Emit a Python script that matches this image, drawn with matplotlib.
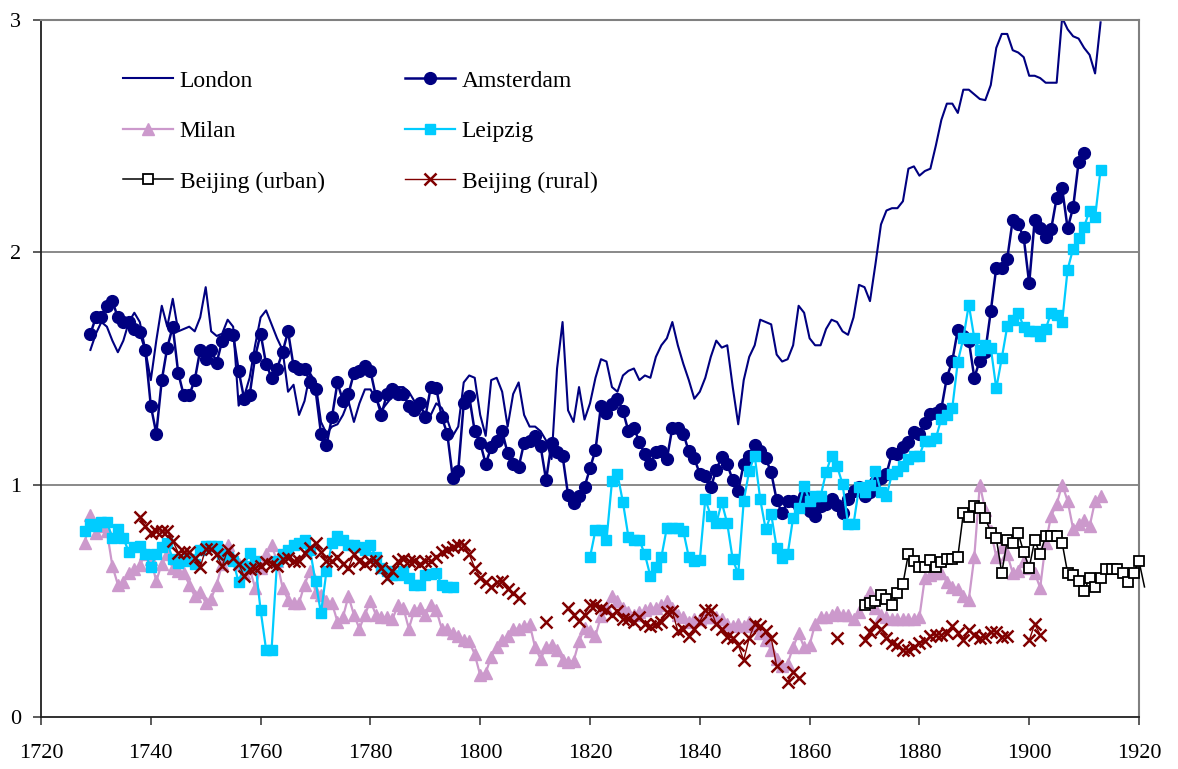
import numpy as np
import matplotlib
matplotlib.use("Agg")
import matplotlib.pyplot as plt
from matplotlib.ticker import FixedLocator

plt.rcParams['font.family'] = ['Liberation Serif', 'DejaVu Serif']

nan = np.nan

# ---------------- data ----------------
x_ticks = [1720, 1740, 1760, 1780, 1800, 1820, 1840, 1860, 1880, 1900, 1920]
y_ticks = [0, 1, 2, 3]

london_start = 1729
london = [1.58, 1.65, 1.70, 1.68, 1.62, 1.57, 1.62, 1.70, 1.74, 1.70,
          1.58, 1.45, 1.62, 1.77, 1.68, 1.80, 1.66, 1.67, 1.68, 1.66,
          1.72, 1.85, 1.66, 1.64, 1.65, 1.71, 1.68, 1.34, 1.38, 1.46,
          1.60, 1.72, 1.75, 1.69, 1.63, 1.58, 1.40, 1.43, 1.30, 1.36,
          1.48, 1.44, 1.27, 1.22, 1.25, 1.26, 1.30, 1.36, 1.27, 1.35,
          1.41, 1.41, 1.37, 1.32, 1.35, 1.38, 1.42, 1.42, 1.40, 1.36,
          1.33, 1.31, 1.30, 1.35, 1.33, 1.28, 1.21, 1.25, 1.44, 1.47,
          1.46, 1.30, 1.21, 1.45, 1.46, 1.40, 1.25, 1.39, 1.44, 1.30,
          1.25, 1.25, 1.23, 1.19, 1.11, 1.50, 1.70, 1.32, 1.27, 1.42,
          1.28, 1.35, 1.46, 1.54, 1.53, 1.42, 1.40, 1.47, 1.49, 1.50,
          1.45, 1.47, 1.46, 1.55, 1.60, 1.63, 1.70, 1.60, 1.52, 1.45,
          1.37, 1.40, 1.46, 1.55, 1.62, 1.59, 1.60, 1.42, 1.26, 1.45,
          1.55, 1.60, 1.71, 1.70, 1.69, 1.56, 1.53, 1.54, 1.60, 1.77,
          1.74, 1.63, 1.60, 1.60, 1.67, 1.71, 1.70, 1.66, 1.645, 1.72,
          1.86, 1.85, 1.79, 1.95, 2.12, 2.18, 2.19, 2.19, 2.22, 2.36,
          2.37, 2.33, 2.35, 2.36, 2.46, 2.57, 2.64, 2.64, 2.60, 2.70,
          2.70, 2.68, 2.66, 2.655, 2.72, 2.88, 2.94, 2.94, 2.87, 2.86,
          2.84, 2.76, 2.76, 2.75, 2.73, 2.73, 2.73, 3.01, 2.96, 2.93,
          2.92, 2.88, 2.85, 2.77, 2.99]

amsterdam_start = 1729
amsterdam = [1.65, 1.72, 1.72, 1.77, 1.79, 1.72, 1.70, 1.70, 1.67, 1.655,
             1.58, 1.34, 1.22, 1.45, 1.59, 1.68, 1.48, 1.385, 1.385, 1.45,
             1.58, 1.54, 1.58, 1.525, 1.62, 1.65, 1.645, 1.49, 1.37, 1.385,
             1.55, 1.65, 1.52, 1.46, 1.50, 1.57, 1.66, 1.51, 1.50, 1.50,
             1.44, 1.41, 1.22, 1.17, 1.29, 1.44, 1.36, 1.39, 1.48, 1.49,
             1.51, 1.49, 1.38, 1.30, 1.39, 1.41, 1.39, 1.39, 1.34, 1.32,
             1.35, 1.29, 1.42, 1.415, 1.29, 1.22, 1.03, 1.06, 1.35, 1.38,
             1.23, 1.18, 1.09, 1.16, 1.19, 1.23, 1.135, 1.09, 1.075, 1.18,
             1.19, 1.21, 1.165, 1.02, 1.18, 1.14, 1.125, 0.957, 0.923, 0.952,
             0.99, 1.07, 1.15, 1.34, 1.31, 1.346, 1.37, 1.317, 1.23, 1.245,
             1.183, 1.13, 1.087, 1.14, 1.145, 1.11, 1.245, 1.245, 1.22, 1.143,
             1.114, 1.046, 1.039, 0.988, 1.064, 1.12, 1.087, 1.02, 0.974, 1.09,
             1.125, 1.17, 1.147, 1.114, 1.053, 0.934, 0.876, 0.93, 0.93, 0.91,
             0.95, 0.887, 0.866, 0.909, 0.916, 0.938, 0.913, 0.876, 0.938, 0.974,
             0.99, 0.95, 0.97, 1.01, 1.03, 1.046, 1.136, 1.133, 1.16, 1.183,
             1.226, 1.219, 1.266, 1.306, 1.31, 1.327, 1.461, 1.534, 1.667, 1.64,
             1.62, 1.461, 1.534, 1.573, 1.746, 1.934, 1.934, 1.973, 2.14, 2.121,
             2.064, 1.866, 2.14, 2.103, 2.064, 2.10, 2.234, 2.276, 2.103, 2.193,
             2.388, 2.428]

milan_start = 1728
milan = [0.75, 0.87, 0.79, 0.82, 0.80, 0.65, 0.57, 0.58, 0.62, 0.635,
         0.655, 0.70, 0.68, 0.585, 0.66, 0.70, 0.64, 0.63, 0.62, 0.57,
         0.52, 0.54, 0.49, 0.51, 0.57, 0.66, 0.74, 0.68, 0.66, 0.62,
         0.64, 0.556, 0.64, 0.70, 0.74, 0.67, 0.556, 0.505, 0.49, 0.49,
         0.57, 0.63, 0.54, 0.527, 0.50, 0.49, 0.41, 0.43, 0.52, 0.44,
         0.38, 0.44, 0.50, 0.44, 0.43, 0.43, 0.42, 0.48, 0.47, 0.38,
         0.46, 0.47, 0.44, 0.48, 0.46, 0.38, 0.38, 0.36, 0.35, 0.33,
         0.325, 0.27, 0.18, 0.19, 0.26, 0.30, 0.33, 0.35, 0.38, 0.38,
         0.39, 0.40, 0.30, 0.25, 0.30, 0.31, 0.29, 0.245, 0.238, 0.24,
         0.325, 0.385, 0.37, 0.35, 0.433, 0.47, 0.52, 0.50, 0.47, 0.45,
         0.44, 0.45, 0.46, 0.47, 0.47, 0.48, 0.50, 0.47, 0.44, 0.43,
         0.41, 0.42, 0.42, 0.43, 0.43, 0.43, 0.42, 0.40, 0.39, 0.40,
         0.39, 0.41, 0.39, 0.36, 0.33, 0.29, 0.25, 0.22, 0.23, 0.30,
         0.36, 0.30, 0.31, 0.40, 0.43, 0.43, 0.44, 0.45, 0.44, 0.44,
         0.42, 0.45, 0.50, 0.54, 0.47, 0.44, 0.43, 0.42, 0.42, 0.42,
         0.42, 0.42, 0.43, 0.60, 0.61, 0.62, 0.62, 0.58, 0.56, 0.55,
         0.52, 0.505, 0.69, 1.00, 0.89, 0.80, 0.69, 0.73, 0.70, 0.62,
         0.63, 0.67, 0.64, 0.62, 0.556, 0.75, 0.866, 0.916, 1.00, 0.93,
         0.81, 0.83, 0.85, 0.82, 0.93, 0.95]

leipzig_start = 1728
leipzig = ([0.80, 0.83, 0.82, 0.84, 0.84, 0.77, 0.81, 0.77, 0.71, 0.73,
            0.736, 0.70, 0.645, 0.70, 0.73, 0.75, 0.68, 0.664, 0.67, 0.68,
            0.66, 0.72, 0.736, 0.736, 0.736, 0.70, 0.69, 0.67, 0.58, 0.65,
            0.707, 0.67, 0.46, 0.29, 0.29, 0.67, 0.70, 0.72, 0.74, 0.75,
            0.76, 0.72, 0.584, 0.447, 0.628, 0.75, 0.78, 0.76, 0.74, 0.74,
            0.73, 0.72, 0.74, 0.69, 0.64, 0.63, 0.61, 0.61, 0.63, 0.60,
            0.57, 0.57, 0.61, 0.615, 0.62, 0.57, 0.56, 0.56]
           + [nan] * 24 +
           [0.688, 0.804, 0.804, 0.76, 1.014, 1.046, 0.924, 0.775, 0.76, 0.76,
            0.70, 0.606, 0.645, 0.688, 0.815, 0.815, 0.815, 0.80, 0.688, 0.67,
            0.675, 0.938, 0.866, 0.833, 0.924, 0.833, 0.678, 0.616, 0.93, 1.06,
            1.125, 0.938, 0.808, 0.873, 0.729, 0.685, 0.70, 0.858, 0.90, 0.996,
            0.93, 0.95, 0.95, 1.053, 1.125, 1.08, 1.003, 0.83, 0.83, 0.988,
            0.97, 1.00, 1.06, 0.97, 0.95, 1.046, 1.06, 1.08, 1.11, 1.125,
            1.125, 1.19, 1.19, 1.20, 1.284, 1.30, 1.332, 1.53, 1.63, 1.775,
            1.63, 1.58, 1.60, 1.59, 1.414, 1.544, 1.681, 1.71, 1.74, 1.68,
            1.66, 1.66, 1.64, 1.67, 1.74, 1.73, 1.70, 1.926, 2.016, 2.06,
            2.11, 2.18, 2.15, 2.356])

beijing_urban_start = 1870
beijing_urban = [0.483, 0.49, 0.50, 0.527, 0.51, 0.483, 0.534, 0.573, 0.703, 0.671,
                 0.645, 0.645, 0.675, 0.645, 0.665, 0.68, 0.68, 0.69, 0.876, 0.86,
                 0.909, 0.90, 0.857, 0.794, 0.77, 0.62, 0.76, 0.75, 0.79, 0.71,
                 0.642, 0.76, 0.70, 0.78, 0.78, 0.78, 0.75, 0.62, 0.61, 0.585,
                 0.541, 0.60, 0.56, 0.60, 0.635, 0.635, 0.635, 0.62, 0.58, 0.62,
                 0.671, 0.56]

beijing_rural_start = 1738
beijing_rural = ([0.86, 0.82, 0.79, 0.80, 0.80, 0.80, 0.758, 0.707, 0.71, 0.71,
                  0.685, 0.645, 0.723, 0.723, 0.70, 0.649, 0.72, 0.685, 0.66, 0.606,
                  0.635, 0.64, 0.652, 0.667, 0.66, 0.65, 0.678, 0.685, 0.67, 0.67,
                  0.707, 0.729, 0.75, 0.71, 0.671, 0.67, 0.69, 0.66, 0.642, 0.70,
                  0.67, 0.66, 0.67, 0.671, 0.642, 0.599, 0.63, 0.67, 0.68, 0.67,
                  0.67, 0.66, 0.67, 0.67, 0.69, 0.71, 0.72, 0.73, 0.74, 0.74,
                  0.70, 0.642, 0.60, 0.58, 0.56, 0.58, 0.584, 0.55, 0.534, 0.512]
                 + [nan] * 4 + [0.41] + [nan] * 3 +
                 [0.47, 0.44, 0.415, 0.44, 0.48, 0.48, 0.47, 0.46, 0.44, 0.455,
                  0.42, 0.42, 0.41, 0.43, 0.40, 0.39, 0.40, 0.41, 0.45, 0.455,
                  0.37, 0.38, 0.35, 0.38, 0.41, 0.46, 0.46, 0.40, 0.38, 0.346,
                  0.34, 0.31, 0.245, 0.34, 0.40, 0.39, 0.37, 0.34, 0.22, nan,
                  0.15, 0.195, 0.166]
                 + [nan] * 6 + [0.34] + [nan] * 4 +
                 [0.332, 0.368, 0.40, 0.38, 0.34, 0.32, 0.31, 0.29, 0.289, 0.303,
                  0.317, 0.325, 0.35, 0.354, 0.354, 0.36, 0.39, 0.36, 0.332, 0.375,
                  0.354, 0.339, 0.346, 0.368, 0.368, 0.346, 0.35]
                 + [nan] * 3 + [0.33, 0.40, 0.355])


def years(start, vals):
    return np.arange(start, start + len(vals))


# ---------------- figure ----------------
W, H = 1178, 769
fig = plt.figure(figsize=(W / 100, H / 100), dpi=100)
L, R, T, B = 41, 1139, 20, 717
ax = fig.add_axes([L / W, 1 - B / H, (R - L) / W, (B - T) / H])

ax.set_xlim(1720, 1920)
ax.set_ylim(0, 3)

grid_c = '#808080'
for g in [1, 2]:
    ax.axhline(g, color=grid_c, lw=1.3, zorder=0.5)

navy = '#000080'
h_london, = ax.plot(years(london_start, london), london, color=navy, lw=1.5,
                    label='London', zorder=2)
h_ams, = ax.plot(years(amsterdam_start, amsterdam), amsterdam, color=navy,
                 lw=1.8, marker='o', ms=8.5, mec=navy, mfc=navy,
                 label='Amsterdam', zorder=3)
h_milan, = ax.plot(years(milan_start, milan), milan, color='#CC99CC', lw=1.6,
                   marker='^', ms=8.5, mec='#CC99CC', mfc='#CC99CC',
                   label='Milan', zorder=4)
h_leip, = ax.plot(years(leipzig_start, leipzig), leipzig, color='#00CCFF',
                  lw=1.6, marker='s', ms=7.5, mec='#00CCFF', mfc='#00CCFF',
                  label='Leipzig', zorder=5)
uy = years(beijing_urban_start, beijing_urban)
h_urb, = ax.plot(uy, beijing_urban, color='black', lw=1.1, marker='s', ms=7,
                 mfc='white', mec='black', mew=1.3,
                 markevery=slice(0, len(uy) - 1), clip_on=False,
                 label='Beijing (urban)', zorder=6)
h_rur, = ax.plot(years(beijing_rural_start, beijing_rural), beijing_rural,
                 color='#800000', lw=1.0, marker='x', ms=9, mew=1.8,
                 label='Beijing (rural)', zorder=7)

# spines
for s in ['top', 'right']:
    ax.spines[s].set_color(grid_c)
    ax.spines[s].set_linewidth(1.5)
for s in ['left', 'bottom']:
    ax.spines[s].set_color('#202020')
    ax.spines[s].set_linewidth(1.3)

ax.xaxis.set_major_locator(FixedLocator(x_ticks))
ax.yaxis.set_major_locator(FixedLocator(y_ticks))
ax.set_xticklabels([str(v) for v in x_ticks])
ax.set_yticklabels([str(v) for v in y_ticks])
ax.tick_params(axis='both', direction='out', length=5.5, width=1.2,
               color='#404040', labelsize=16, labelcolor='black')
ax.tick_params(axis='x', pad=14)
ax.tick_params(axis='y', pad=9)

leg = ax.legend(handles=[h_london, h_milan, h_urb, h_ams, h_leip, h_rur],
                ncol=2, frameon=False, loc='upper left',
                bbox_to_anchor=((123 - L) / (R - L), (B - 70) / (B - T)),
                borderpad=0, borderaxespad=0, fontsize=17,
                handlelength=2.1, handletextpad=0.3, labelspacing=1.23,
                columnspacing=3.4, numpoints=1)

fig.savefig('out.png', dpi=100)
